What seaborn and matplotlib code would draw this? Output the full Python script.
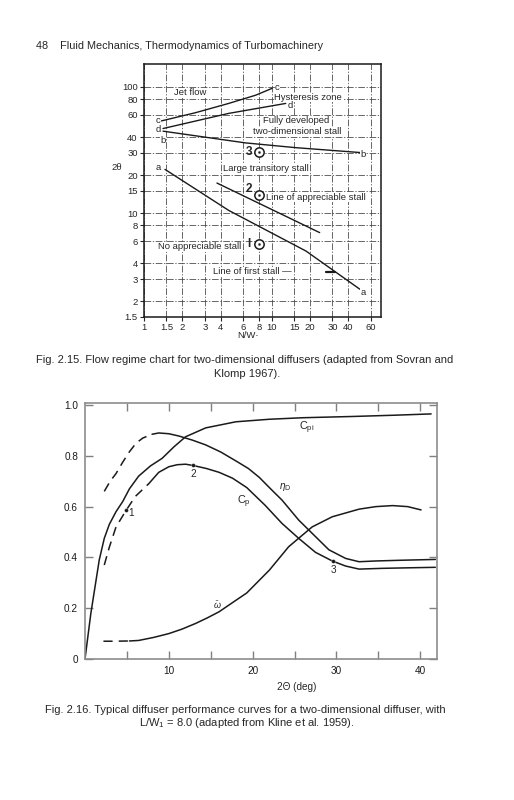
import pandas as pd
import seaborn as sns
import matplotlib.pyplot as plt
from matplotlib.ticker import FixedLocator, NullLocator

# ---- Fig. 2.15: flow regime chart (log-log) ----
nw_ticks = [1, 1.5, 2, 3, 4, 6, 8, 10, 15, 20, 30, 40, 60]
nw_labels = ['1', '1.5', '2', '3', '4', '6', '8', '10', '15', '20', '30', '40', '60']
theta_ticks = [1.5, 2, 3, 4, 6, 8, 10, 15, 20, 30, 40, 60, 80, 100]
theta_labels = ['1.5', '2', '3', '4', '6', '8', '10', '15', '20', '30', '40', '60', '80', '100']

cc_nw = [1.37, 2.52, 4.61, 7.5, 10.1]
cc_2t = [53.8, 62.4, 74.0, 86.0, 97.5]
dd_nw = [1.41, 4.61, 12.9]
dd_2t = [46.8, 61.7, 74.0]
bb_nw = [1.41, 6.25, 15.5, 49.2]
bb_2t = [44.6, 36.0, 33.0, 30.2]
aa_nw = [1.46, 4.61, 18.6, 49.2]
aa_2t = [22.2, 10.5, 5.0, 2.49]
appr_nw = [3.73, 23.8]
appr_2t = [17.3, 7.0]
first_nw = [26.8, 31.2]
first_2t = [3.42, 3.42]

# circled test points 1, 2, 3 at N/W = 8
pts_nw = [8, 8, 8]
pts_2t = [5.7, 14.0, 30.4]
pts_names = ['I', '2', '3']

# ---- Fig. 2.16: diffuser performance curves ----
cpi_x = [0, 0.7, 1.7, 2.3, 2.9, 3.7, 4.5, 5.3, 6.4, 7.8, 9.2, 10.6, 12.0, 14.4, 18.0, 22.0, 26.0, 32.0, 37.0, 41.3]
cpi_y = [0, 0.18, 0.39, 0.475, 0.53, 0.58, 0.62, 0.67, 0.72, 0.76, 0.79, 0.835, 0.875, 0.91, 0.934, 0.944, 0.95, 0.955, 0.96, 0.965]

eta_dash_x = [2.3, 3.0, 3.7, 4.5, 5.3, 6.1, 6.9, 8.0]
eta_dash_y = [0.66, 0.70, 0.73, 0.775, 0.816, 0.85, 0.87, 0.885]
eta_x = [8.0, 8.8, 10.0, 11.2, 12.8, 14.4, 16.2, 18.0, 19.5, 20.8, 22.3, 23.5, 25.5, 27.1, 29.1, 31.1, 32.7, 34.7, 37.9, 41.8]
eta_y = [0.885, 0.89, 0.887, 0.878, 0.862, 0.843, 0.815, 0.78, 0.75, 0.715, 0.665, 0.626, 0.547, 0.495, 0.43, 0.396, 0.383, 0.386, 0.389, 0.392]

cp_dash_x = [2.3, 2.9, 3.7, 4.9, 6.0, 7.6]
cp_dash_y = [0.37, 0.44, 0.52, 0.585, 0.64, 0.69]
cp_x = [7.6, 8.8, 10.0, 11.0, 12.0, 12.9, 14.5, 16.0, 17.6, 19.3, 21.5, 23.5, 25.5, 27.5, 29.5, 31.1, 32.7, 35.5, 38.5, 41.8]
cp_y = [0.69, 0.735, 0.757, 0.765, 0.767, 0.762, 0.75, 0.735, 0.712, 0.675, 0.605, 0.534, 0.475, 0.42, 0.386, 0.366, 0.354, 0.357, 0.359, 0.361]

om_dash_x = [2.2, 3.5, 5.3]
om_dash_y = [0.07, 0.07, 0.071]
om_x = [5.3, 6.4, 8.2, 10.0, 11.6, 13.2, 14.6, 16.0, 17.6, 19.3, 20.5, 22.0, 24.3, 27.1, 29.5, 32.7, 34.7, 36.7, 38.5, 40.1]
om_y = [0.071, 0.073, 0.085, 0.10, 0.118, 0.14, 0.162, 0.186, 0.222, 0.26, 0.30, 0.35, 0.442, 0.52, 0.56, 0.59, 0.60, 0.604, 0.60, 0.587]

marks_x = [4.9, 12.9, 29.6]
marks_y = [0.585, 0.762, 0.386]

angle_ticks = [5, 10, 15, 20, 25, 30, 35, 40]
angle_labels = ['', '10', '', '20', '', '30', '', '40']
coef_ticks = [0, 0.2, 0.4, 0.6, 0.8, 1.0]
coef_labels = ['0', '0.2', '0.4', '0.6', '0.8', '1.0']

sns.set_theme(style="ticks")
plt.rcParams['font.family'] = ['Liberation Sans', 'DejaVu Sans']
plt.rcParams['mathtext.fontset'] = 'custom'
plt.rcParams['mathtext.rm'] = 'Liberation Sans'
plt.rcParams['mathtext.it'] = 'Liberation Sans:italic'

W, H = 514, 800
fig = plt.figure(figsize=(W / 100, H / 100), dpi=100)
fig.patch.set_facecolor('white')


def px_rect(l, t, r, b):
    return [l / W, 1 - b / H, (r - l) / W, (b - t) / H]


# 🔹 Top chart
ax1 = fig.add_axes(px_rect(144, 64, 381, 317))
ax1.set_xscale('log')
ax1.set_yscale('log')
ax1.set_xlim(1, 72)
ax1.set_ylim(1.5, 152)

for xs, ys in [(cc_nw, cc_2t), (dd_nw, dd_2t), (bb_nw, bb_2t), (aa_nw, aa_2t),
               (appr_nw, appr_2t)]:
    sns.lineplot(x=xs, y=ys, ax=ax1, color='k', lw=1.0, sort=False, estimator=None)
sns.lineplot(x=first_nw, y=first_2t, ax=ax1, color='k', lw=1.6, sort=False, estimator=None)

sns.scatterplot(x=pts_nw, y=pts_2t, ax=ax1, marker='o', s=45, facecolor='white',
                edgecolor='k', linewidth=1.1, zorder=5)
sns.scatterplot(x=pts_nw, y=pts_2t, ax=ax1, marker='o', s=4, color='k', zorder=6)
for xv, yv, name in zip(pts_nw, pts_2t, pts_names):
    ax1.text(xv * 0.83, yv * (1.1 if name == '2' else 1.0), name, fontsize=8.5,
             fontweight='bold', ha='center', va='center')

ax1.xaxis.set_major_locator(FixedLocator(nw_ticks))
ax1.xaxis.set_minor_locator(NullLocator())
ax1.set_xticklabels(nw_labels)
ax1.yaxis.set_major_locator(FixedLocator(theta_ticks))
ax1.yaxis.set_minor_locator(NullLocator())
ax1.set_yticklabels(theta_labels)
ax1.tick_params(direction='out', length=3, width=0.8, labelsize=6.8, pad=1.5,
                colors='0.15')
ax1.grid(True, which='major', color='0.3', lw=0.6, ls=(0, (8, 2, 1.5, 2)))
for s in ax1.spines.values():
    s.set_color('k')
    s.set_linewidth(1.1)
ax1.set_xlabel('')
ax1.set_ylabel('')

box = dict(fc='white', ec='none', pad=0.3)
regions = [
    (2.3, 90, 'Jet flow'),
    (19.4, 82.5, 'Hysteresis zone'),
    (15.5, 53.8, 'Fully developed'),
    (16.0, 44.0, 'two-dimensional stall'),
    (9.0, 22.5, 'Large transitory stall'),
    (22.4, 13.4, 'Line of appreciable stall'),
    (2.75, 5.4, 'No appreciable stall'),
    (7.06, 3.42, 'Line of first stall \u2014'),
]
for xv, yv, txt in regions:
    ax1.text(xv, yv, txt, fontsize=6.8, ha='center', va='center', bbox=box, zorder=4)

letters = [(1.29, 53.8, 'c'), (11.1, 99, 'c'), (1.29, 45.8, 'd'), (14.0, 71.8, 'd'),
           (1.41, 37.7, 'b'), (52.2, 29.2, 'b'), (1.29, 22.9, 'a'), (52.2, 2.34, 'a')]
for xv, yv, txt in letters:
    ax1.text(xv, yv, txt, fontsize=6.8, ha='center', va='center', bbox=box, zorder=4)

fig.text(117 / W, 1 - 168 / H, '2\u03b8', fontsize=6.8, ha='center', va='center')
fig.text(248 / W, 1 - 336 / H, 'N/W\u00b7', fontsize=6.8, ha='center', va='center')

# 🔹 Bottom chart
ax2 = fig.add_axes(px_rect(85, 403, 437, 659))
ax2.set_xlim(0, 42)
ax2.set_ylim(0, 1.008)

solid = [(cpi_x, cpi_y), (eta_x, eta_y), (cp_x, cp_y), (om_x, om_y)]
dashed = [(eta_dash_x, eta_dash_y), (cp_dash_x, cp_dash_y), (om_dash_x, om_dash_y)]
for xs, ys in solid:
    sns.lineplot(x=xs, y=ys, ax=ax2, color='k', lw=1.1, sort=False, estimator=None)
for xs, ys in dashed:
    sns.lineplot(x=xs, y=ys, ax=ax2, color='k', lw=1.1, sort=False, estimator=None,
                 linestyle=(0, (6, 4)))
sns.scatterplot(x=marks_x, y=marks_y, ax=ax2, color='k', s=8, zorder=5)

ax2.text(marks_x[0] + 0.6, marks_y[0] - 0.012, '1', fontsize=7.2, ha='center', va='center')
ax2.text(marks_x[1], marks_y[1] - 0.034, '2', fontsize=7.2, ha='center', va='center')
ax2.text(marks_x[2], marks_y[2] - 0.034, '3', fontsize=7.2, ha='center', va='center')

ax2.text(26.5, 0.912, r'C$_{\mathregular{pi}}$', fontsize=7.8, ha='center', va='center')
ax2.text(23.9, 0.676, r'$\eta_{\mathregular{D}}$', fontsize=7.2, ha='center', va='center')
ax2.text(19.0, 0.62, r'C$_{\mathregular{p}}$', fontsize=7.8, ha='center', va='center')
ax2.text(15.8, 0.213, r'$\bar{\omega}$', fontsize=6.5, ha='center', va='center')

ax2.set_xticks(angle_ticks)
ax2.set_xticklabels(angle_labels)
ax2.set_yticks(coef_ticks)
ax2.set_yticklabels(coef_labels)
ax2.tick_params(direction='in', top=True, right=True, length=6, width=1.0,
                color='0.5', labelsize=7.2, pad=5, labelcolor='k')
for s in ax2.spines.values():
    s.set_color('0.55')
    s.set_linewidth(1.2)
ax2.set_xlabel('')
ax2.set_ylabel('')

fig.text(297 / W, 1 - 687 / H, '2\u0398 (deg)', fontsize=7.2, ha='center', va='center')

# 🔹 Page text
fig.text(36 / W, 1 - 46 / H, '48    Fluid Mechanics, Thermodynamics of Turbomachinery',
         fontsize=7.8, ha='left', va='center')
fig.text(245 / W, 1 - 360 / H,
         'Fig. 2.15. Flow regime chart for two-dimensional diffusers (adapted from Sovran and',
         fontsize=8.0, ha='center', va='center')
fig.text(247 / W, 1 - 374 / H, 'Klomp 1967).', fontsize=8.0, ha='center', va='center')
fig.text(245 / W, 1 - 710 / H,
         'Fig. 2.16. Typical diffuser performance curves for a two-dimensional diffuser, with',
         fontsize=8.0, ha='center', va='center')
fig.text(247 / W, 1 - 723.5 / H,
         r'L/W$_{\mathregular{1}}$ = 8.0 (adapted from Kline et al. 1959).',
         fontsize=8.0, ha='center', va='center')

fig.savefig('out.png', dpi=100)
